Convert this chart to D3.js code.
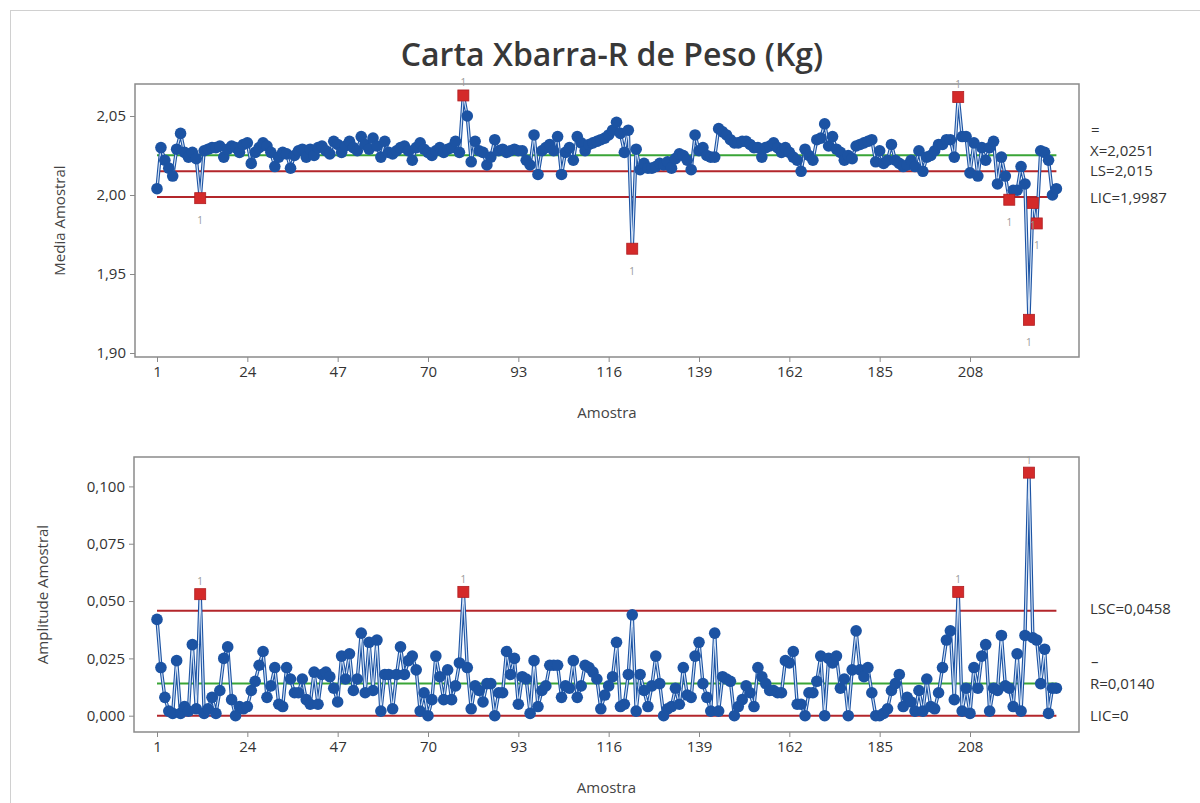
<!DOCTYPE html>
<html>
<head>
<meta charset="utf-8">
<script src="https://cdn.jsdelivr.net/npm/d3@7"></script>
<style>
  body { margin: 0; background: #fff; }
  svg { font-family: "Open Sans", "Noto Sans", sans-serif; }
</style>
</head>
<body>
<script>
(function () {
  'use strict';

  // médias das amostras (Kg)
  const medias = [
    2.004, 2.030, 2.022, 2.017, 2.012, 2.029, 2.039, 2.027, 2.024, 2.027,
    2.023, 1.998, 2.028, 2.029, 2.030, 2.030, 2.031, 2.024, 2.029, 2.031,
    2.030, 2.027, 2.032, 2.033, 2.020, 2.027, 2.030, 2.033, 2.031, 2.027,
    2.018, 2.024, 2.027, 2.026, 2.017, 2.025, 2.028, 2.029, 2.024, 2.029,
    2.025, 2.030, 2.031, 2.028, 2.026, 2.034, 2.032, 2.027, 2.031, 2.034,
    2.030, 2.028, 2.037, 2.032, 2.029, 2.036, 2.031, 2.024, 2.034, 2.027,
    2.026, 2.028, 2.030, 2.031, 2.028, 2.022, 2.030, 2.033, 2.029, 2.027,
    2.025, 2.028, 2.030, 2.027, 2.029, 2.030, 2.034, 2.027, 2.063, 2.050,
    2.021, 2.034, 2.028, 2.027, 2.019, 2.024, 2.035, 2.028, 2.029, 2.027,
    2.028, 2.029, 2.028, 2.028, 2.022, 2.019, 2.038, 2.013, 2.028, 2.030,
    2.032, 2.028, 2.037, 2.013, 2.027, 2.030, 2.022, 2.037, 2.033, 2.028,
    2.032, 2.033, 2.034, 2.035, 2.036, 2.038, 2.041, 2.046, 2.039, 2.027,
    2.041, 1.966, 2.029, 2.016, 2.020, 2.017, 2.017, 2.018, 2.020, 2.019,
    2.021, 2.017, 2.023, 2.026, 2.025, 2.022, 2.016, 2.038, 2.028, 2.030,
    2.025, 2.024, 2.024, 2.042, 2.040, 2.038, 2.035, 2.033, 2.033, 2.034,
    2.034, 2.032, 2.030, 2.030, 2.024, 2.030, 2.031, 2.033, 2.030, 2.027,
    2.030, 2.027, 2.024, 2.022, 2.015, 2.029, 2.025, 2.022, 2.035, 2.036,
    2.045, 2.031, 2.037, 2.029, 2.027, 2.022, 2.025, 2.023, 2.031, 2.032,
    2.033, 2.034, 2.035, 2.021, 2.028, 2.020, 2.022, 2.032, 2.022, 2.020,
    2.018, 2.019, 2.022, 2.018, 2.028, 2.015, 2.024, 2.025, 2.028, 2.032,
    2.032, 2.035, 2.035, 2.024, 2.062, 2.037, 2.037, 2.014, 2.033, 2.012,
    2.030, 2.022, 2.030, 2.034, 2.007, 2.024, 2.012, 1.997, 2.003, 2.003,
    2.018, 2.007, 1.921, 1.995, 1.982, 2.028, 2.027, 2.022, 2.000, 2.004
  ];

  // amplitudes das amostras (Kg)
  const amplitudes = [
    0.042, 0.021, 0.008, 0.002, 0.001, 0.024, 0.001, 0.004, 0.002, 0.031,
    0.003, 0.053, 0.001, 0.003, 0.008, 0.001, 0.011, 0.025, 0.030, 0.007,
    0.000, 0.004, 0.003, 0.004, 0.011, 0.015, 0.022, 0.028, 0.008, 0.013,
    0.021, 0.005, 0.004, 0.021, 0.016, 0.010, 0.010, 0.016, 0.007, 0.005,
    0.019, 0.005, 0.018, 0.019, 0.017, 0.012, 0.006, 0.026, 0.016, 0.027,
    0.011, 0.016, 0.036, 0.010, 0.032, 0.011, 0.033, 0.002, 0.018, 0.018,
    0.003, 0.018, 0.030, 0.018, 0.024, 0.026, 0.020, 0.002, 0.010, 0.000,
    0.007, 0.026, 0.017, 0.007, 0.020, 0.007, 0.013, 0.023, 0.054, 0.021,
    0.003, 0.013, 0.011, 0.006, 0.014, 0.014, 0.000, 0.010, 0.010, 0.028,
    0.018, 0.025, 0.005, 0.017, 0.016, 0.001, 0.024, 0.004, 0.011, 0.013,
    0.022, 0.022, 0.022, 0.008, 0.013, 0.012, 0.024, 0.008, 0.013, 0.022,
    0.021, 0.019, 0.016, 0.003, 0.009, 0.013, 0.017, 0.032, 0.004, 0.005,
    0.018, 0.044, 0.002, 0.018, 0.011, 0.004, 0.013, 0.026, 0.014, 0.000,
    0.003, 0.004, 0.012, 0.005, 0.021, 0.009, 0.008, 0.026, 0.032, 0.014,
    0.008, 0.002, 0.036, 0.002, 0.017, 0.016, 0.015, 0.000, 0.004, 0.007,
    0.013, 0.010, 0.004, 0.021, 0.017, 0.014, 0.011, 0.011, 0.010, 0.010,
    0.024, 0.023, 0.028, 0.005, 0.005, 0.000, 0.010, 0.010, 0.015, 0.026,
    0.000, 0.025, 0.023, 0.026, 0.012, 0.016, 0.000, 0.020, 0.037, 0.020,
    0.017, 0.021, 0.010, 0.000, 0.000, 0.001, 0.003, 0.011, 0.014, 0.018,
    0.004, 0.008, 0.006, 0.002, 0.011, 0.002, 0.016, 0.004, 0.003, 0.010,
    0.021, 0.033, 0.037, 0.007, 0.054, 0.002, 0.012, 0.001, 0.021, 0.012,
    0.026, 0.031, 0.002, 0.012, 0.011, 0.035, 0.013, 0.012, 0.004, 0.027,
    0.002, 0.035, 0.106, 0.034, 0.033, 0.014, 0.029, 0.001, 0.012, 0.012
  ];

  // amostras marcadas pelo teste 1
  const foraMedia = [12, 79, 122, 205, 218, 223, 224, 225];
  const foraAmplitude = [12, 79, 205, 223];

  const xTicks = [1, 24, 47, 70, 93, 116, 139, 162, 185, 208];
  const yTicksMedia = [1.90, 1.95, 2.00, 2.05];
  const yTicksAmplitude = [0, 0.025, 0.05, 0.075, 0.1];

  // linhas de controle: central, superior, inferior
  const limitesMedia = [2.0251, 2.015, 1.9987];
  const rotulosMedia = ["X=2,0251", "LS=2,015", "LIC=1,9987"];
  const limitesAmplitude = [0.0140, 0.0458, 0];
  const rotulosAmplitude = ["R=0,0140", "LSC=0,0458", "LIC=0"];

  const width = 1200, height = 803;
  const blue = "#1c53a3", red = "#d42a2a", darkRed = "#b3262b", green = "#3aa537";

  const svg = d3.select("body").append("svg").
    attr("width", width).
    attr("height", height);

  svg.append("rect").
    attr("x", 10.5).attr("y", 10.5).
    attr("width", width).attr("height", height).
    attr("fill", "none").attr("stroke", "#d0d0d0");

  svg.append("text").
    attr("x", 612).attr("y", 66).
    attr("text-anchor", "middle").
    attr("font-size", "32px").
    attr("font-weight", 600).
    attr("fill", "#383838").
    text("Carta Xbarra-R de Peso (Kg)");

  const x = d3.scaleLinear().domain([1, 208]).range([157, 970]);
  const fmt = d => d3.format(".2f")(d).replace(".", ",");
  const fmt3 = d => d3.format(".3f")(d).replace(".", ",");

  function painel(cfg) {
    const g = svg.append("g");
    const y = d3.scaleLinear().domain(cfg.domain).range(cfg.range);
    const data = cfg.values.map((v, i) => ({i: i + 1, v: v}));

    // eixos
    const xAxis = d3.axisBottom(x).tickValues(xTicks).tickSize(5).tickPadding(4);
    const gx = g.append("g").attr("transform", "translate(0," + cfg.bottom + ")").call(xAxis);
    const yAxis = d3.axisLeft(y).tickValues(cfg.ticks).tickFormat(cfg.format).tickSize(5).tickPadding(4);
    const gy = g.append("g").attr("transform", "translate(" + cfg.left + ",0)").call(yAxis);
    [gx, gy].forEach(a => {
      a.select(".domain").remove();
      a.selectAll("line").attr("stroke", "#8a8a8a");
      a.selectAll("text").attr("font-size", "15px").attr("fill", "#333").
        attr("font-family", "'Open Sans', sans-serif");
    });

    g.append("rect").
      attr("x", cfg.left).attr("y", cfg.top).
      attr("width", cfg.right - cfg.left).attr("height", cfg.bottom - cfg.top).
      attr("fill", "none").attr("stroke", "#8a8a8a").attr("stroke-width", 1.5);

    // linhas de controle
    const n = cfg.values.length;
    cfg.limites.forEach((l, k) => {
      g.append("line").
        attr("x1", x(1)).attr("x2", x(n)).
        attr("y1", y(l)).attr("y2", y(l)).
        attr("stroke", k === 0 ? green : darkRed).
        attr("stroke-width", 2);
    });

    // serie
    const line = d3.line().x(d => x(d.i)).y(d => y(d.v));
    g.append("path").datum(data).attr("d", line).
      attr("fill", "none").attr("stroke", blue).attr("stroke-width", 3.4).
      attr("stroke-linejoin", "round");
    g.append("path").datum(data).attr("d", line).
      attr("fill", "none").attr("stroke", "#d3e2f5").attr("stroke-width", 1.2).
      attr("stroke-linejoin", "round");

    g.selectAll("circle").
      data(data.filter(d => cfg.fora.indexOf(d.i) < 0)).
      enter().append("circle").
      attr("cx", d => x(d.i)).attr("cy", d => y(d.v)).
      attr("r", 5.8).attr("fill", blue);

    const foraData = data.filter(d => cfg.fora.indexOf(d.i) >= 0);
    g.selectAll("rect.fora").
      data(foraData).
      enter().append("rect").
      attr("class", "fora").
      attr("x", d => x(d.i) - 5.5).attr("y", d => y(d.v) - 5.5).
      attr("width", 11).attr("height", 11).
      attr("fill", red).attr("stroke", "#b01e22").attr("stroke-width", 0.8);

    g.selectAll("text.teste").
      data(foraData).
      enter().append("text").
      attr("class", "teste").
      attr("x", d => x(d.i)).
      attr("y", d => d.v > cfg.limites[0] ? y(d.v) - 9 : y(d.v) + 26).
      attr("text-anchor", "middle").
      attr("font-size", "10px").
      attr("fill", "#9a9a9a").
      text("1");

    // rótulos à direita
    cfg.rotulos.forEach((r, k) => {
      g.append("text").
        attr("x", 1090).attr("y", cfg.labelY[k]).
        attr("font-size", "15px").attr("fill", "#333").
        text(r);
    });
    g.append("text").
      attr("x", 1091).attr("y", cfg.barY).
      attr("font-size", "15px").attr("fill", "#333").
      text(cfg.bar);

    g.append("text").
      attr("transform", "translate(" + cfg.ylabelX + "," + ((cfg.top + cfg.bottom) / 2) + ") rotate(-90)").
      attr("text-anchor", "middle").
      attr("font-size", "15px").attr("fill", "#444").
      text(cfg.ylabel);

    g.append("text").
      attr("x", (cfg.left + cfg.right) / 2).attr("y", cfg.bottom + 61).
      attr("text-anchor", "middle").
      attr("font-size", "15px").attr("fill", "#444").
      text("Amostra");
  }

  painel({
    values: medias, fora: foraMedia,
    domain: [1.90, 2.05], range: [353, 116],
    ticks: yTicksMedia, format: fmt,
    left: 135, right: 1079, top: 84, bottom: 357,
    limites: limitesMedia, rotulos: rotulosMedia,
    labelY: [156, 176, 203], bar: "=", barY: 135,
    ylabel: "Media Amostral", ylabelX: 65
  });

  painel({
    values: amplitudes, fora: foraAmplitude,
    domain: [0, 0.1], range: [715.7, 486.4],
    ticks: yTicksAmplitude, format: fmt3,
    left: 134, right: 1079, top: 457, bottom: 732,
    limites: limitesAmplitude, rotulos: rotulosAmplitude,
    labelY: [689, 614, 721], bar: "–", barY: 667,
    ylabel: "Amplitude Amostral", ylabelX: 48
  });
})();
</script>
</body>
</html>
